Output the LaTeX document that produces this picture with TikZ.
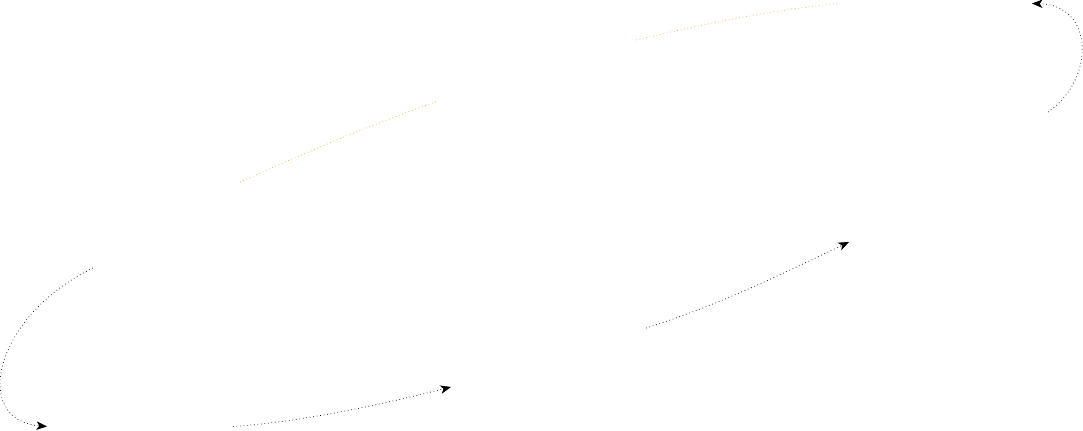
\documentclass[tikz,border=0pt]{standalone}
\usetikzlibrary{arrows.meta}
\definecolor{amber}{RGB}{245,170,40}

\begin{document}
\begin{tikzpicture}[x=0.025cm, y=-0.025cm,
    hid/.style={rectangle, inner sep=0pt, outer sep=0pt},
    flow/.style={draw, dotted, line width=0.5pt, black, -{Stealth[length=7.5pt, width=6pt, inset=2pt]}},
    tie/.style={draw, dotted, line width=0.5pt, amber}]

  \def\px{0.025cm}
  \useasboundingbox (0,0) rectangle (1083,431);

  \node[hid, minimum width=147*\px, minimum height=86*\px] (lm) at (166.5,225) {};
  \node[hid, minimum width=186*\px, minimum height=4*\px]  (bl) at (140,426.5) {};
  \node[hid, minimum width=195*\px, minimum height=59*\px] (bm) at (548.5,357.5) {};
  \node[hid, minimum width=199*\px, minimum height=130*\px] (rt) at (948.5,177) {};
  \node[hid, minimum width=194*\px, minimum height=4*\px]  (tr) at (935,3.5) {};
  \node[hid, minimum width=198*\px, minimum height=61*\px] (tm) at (537,70.5) {};

  \draw[flow] (lm.south west) .. controls (-5,315) and (-30,420) .. (bl.west);
  \draw[flow] (bl.east) .. controls (300,422) and (380,405) .. (bm.south west);
  \draw[flow] (bm.north east) .. controls (720,305) and (790,270) .. (rt.south west);
  \draw[flow] (rt.north east) .. controls (1095,80) and (1095,5) .. (tr.east);

  \draw[tie] (lm.north east) .. controls (300,155) and (370,125) .. (tm.south west);
  \draw[tie] (tm.north east) .. controls (700,25) and (770,10) .. (tr.west);
\end{tikzpicture}
\end{document}
